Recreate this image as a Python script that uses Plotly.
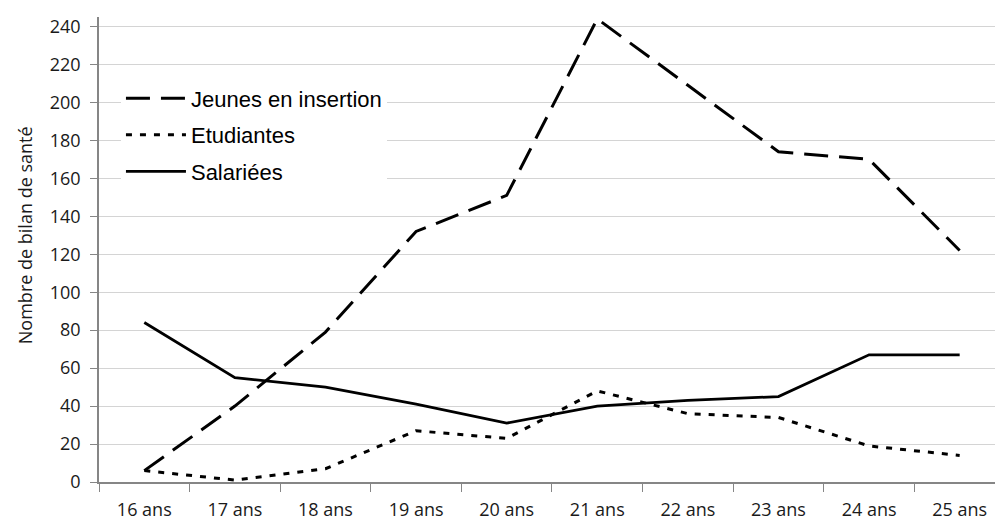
import plotly.graph_objects as go

categories = ["16 ans", "17 ans", "18 ans", "19 ans", "20 ans",
              "21 ans", "22 ans", "23 ans", "24 ans", "25 ans"]
jeunes = [6, 40, 79, 132, 151, 244, 209, 174, 170, 122]
etudiantes = [6, 1, 7, 27, 23, 48, 36, 34, 19, 14]
salariees = [84, 55, 50, 41, 31, 40, 43, 45, 67, 67]
y_ticks = [0, 20, 40, 60, 80, 100, 120, 140, 160, 180, 200, 220, 240]

fig = go.Figure()
fig.add_trace(go.Scatter(x=categories, y=jeunes, mode="lines", name="Jeunes en insertion",
                         legendgroup="a",
                         line=dict(color="black", width=3, dash="24px,11px")))
fig.add_trace(go.Scatter(x=categories, y=etudiantes, mode="lines", name="Etudiantes",
                         legendgroup="b",
                         line=dict(color="black", width=3, dash="6px,8px")))
fig.add_trace(go.Scatter(x=categories, y=salariees, mode="lines", name="Salariées",
                         legendgroup="c",
                         line=dict(color="black", width=2.8)))

tick_font = dict(family="Open Sans", size=18, color="#1a1a1a")

fig.update_layout(
    width=995, height=525,
    margin=dict(l=99, r=0, t=17, b=43),
    paper_bgcolor="white", plot_bgcolor="white",
    showlegend=True,
    legend=dict(x=0.0245, y=0.87, xanchor="left", yanchor="top",
                bgcolor="white", borderwidth=0,
                font=dict(family="Liberation Sans", size=22, color="black"),
                tracegroupgap=5, itemwidth=60),
    xaxis=dict(type="category", range=[-0.5, 9.39], automargin=False,
               showgrid=False, zeroline=False,
               showline=True, linecolor="#868686", linewidth=1.5,
               ticks="outside", ticklen=8, tickcolor="#868686", tickwidth=1.2,
               tickson="boundaries", ticklabelstandoff=11,
               tickfont=tick_font),
    yaxis=dict(range=[0, 245], tickvals=y_ticks, automargin=False,
               showgrid=True, gridcolor="#d4d4d4", gridwidth=1,
               zeroline=False,
               showline=True, linecolor="#868686", linewidth=1.5,
               ticks="outside", ticklen=7, tickcolor="#868686", tickwidth=1.2,
               ticklabelstandoff=6, tickfont=tick_font),
    annotations=[dict(text="Nombre de bilan de santé", xref="paper", yref="paper",
                      x=-0.083, y=0.53, xanchor="center", yanchor="middle",
                      textangle=-90, showarrow=False,
                      font=dict(family="Open Sans", size=18, color="#1a1a1a"))],
)

fig.write_html("out.html")
